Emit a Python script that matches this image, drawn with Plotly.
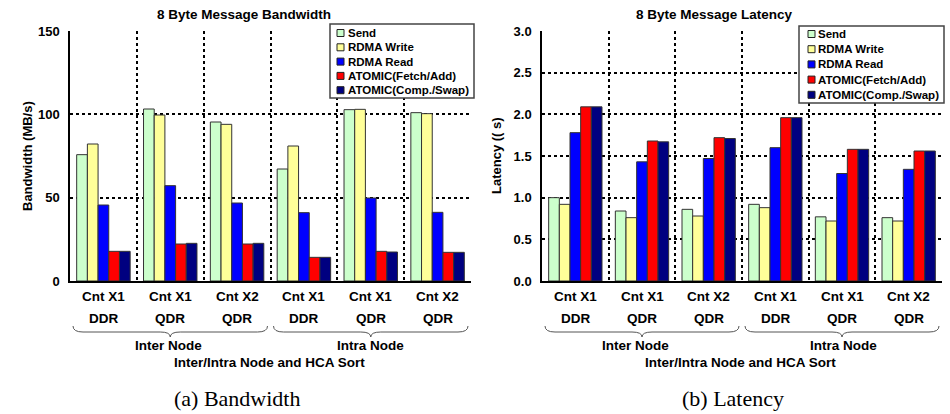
import plotly.graph_objects as go

W, H = 950, 414

# ---------------- data ----------------
hca_sort = ["Cnt X1", "Cnt X1", "Cnt X2", "Cnt X1", "Cnt X1", "Cnt X2"]
link_rate = ["DDR", "QDR", "QDR", "DDR", "QDR", "QDR"]
node_groups = ["Inter Node", "Intra Node"]
categories = [f"{'Inter' if i < 3 else 'Intra'} {h} {r}" for i, (h, r) in enumerate(zip(hca_sort, link_rate))]

series_names = ["Send", "RDMA Write", "RDMA Read", "ATOMIC(Fetch/Add)", "ATOMIC(Comp./Swap)"]
series_colors = ["#CCFFCC", "#FFFF99", "#0000FF", "#FF0000", "#000080"]

bw_send = [75.8, 103.2, 95.4, 67.2, 102.8, 101.0]
bw_write = [82.2, 99.6, 94.0, 81.0, 103.0, 100.4]
bw_read = [45.6, 57.2, 46.8, 41.0, 49.8, 41.2]
bw_fetch_add = [17.8, 22.2, 22.2, 14.2, 17.8, 17.2]
bw_comp_swap = [17.8, 22.6, 22.6, 14.2, 17.4, 17.2]

lat_send = [1.00, 0.84, 0.86, 0.92, 0.77, 0.76]
lat_write = [0.92, 0.76, 0.78, 0.88, 0.72, 0.72]
lat_read = [1.78, 1.43, 1.47, 1.60, 1.29, 1.34]
lat_fetch_add = [2.09, 1.68, 1.72, 1.96, 1.58, 1.56]
lat_comp_swap = [2.09, 1.67, 1.71, 1.96, 1.58, 1.56]

bw_series = [bw_send, bw_write, bw_read, bw_fetch_add, bw_comp_swap]
lat_series = [lat_send, lat_write, lat_read, lat_fetch_add, lat_comp_swap]

bw_ticks = [0, 50, 100, 150]
lat_ticks = [0.0, 0.5, 1.0, 1.5, 2.0, 2.5, 3.0]

# ---------------- helpers ----------------
def px(x):
    return x / W

def py(y):
    return 1 - y / H

SANS = "Liberation Sans, Arial, sans-serif"
SERIF = "Liberation Serif, Times New Roman, serif"

fig = go.Figure()

for k in range(5):
    fig.add_trace(go.Bar(x=categories, y=bw_series[k], name=series_names[k],
                         marker=dict(color=series_colors[k], line=dict(color="#333333", width=1)),
                         xaxis="x", yaxis="y", showlegend=False))
for k in range(5):
    fig.add_trace(go.Bar(x=categories, y=lat_series[k], name=series_names[k],
                         marker=dict(color=series_colors[k], line=dict(color="#333333", width=1)),
                         xaxis="x2", yaxis="y2", showlegend=False))

plot_top, plot_bot = 31, 281
panels = [
    dict(x0=70, x1=471, xa="xaxis", ya="yaxis", ticks=bw_ticks, rng=[0, 150], fmt="d"),
    dict(x0=542, x1=942, xa="xaxis2", ya="yaxis2", ticks=lat_ticks, rng=[0, 3.0], fmt=".1f"),
]

layout = dict(
    template="none",
    width=W, height=H, margin=dict(l=0, r=0, t=0, b=0, pad=0), autosize=False,
    paper_bgcolor="white", plot_bgcolor="white",
    barmode="group", bargap=0.2, bargroupgap=0.0,
    font=dict(family=SANS, color="black"),
    showlegend=False,
)

for i, p in enumerate(panels):
    anchor_y = "y" if i == 0 else "y2"
    anchor_x = "x" if i == 0 else "x2"
    layout[p["xa"]] = dict(
        domain=[px(p["x0"]), px(p["x1"])], anchor=anchor_y, type="category",
        categoryorder="array", categoryarray=categories, range=[-0.5, 5.5],
        tickson="boundaries", showgrid=True, gridcolor="black", griddash="dot", gridwidth=1.5,
        showticklabels=False, ticks="", showline=True, linecolor="black", linewidth=1.5,
        mirror=False, zeroline=False, automargin=False,
    )
    layout[p["ya"]] = dict(
        domain=[py(plot_bot), py(plot_top)], anchor=anchor_x, range=p["rng"],
        tickvals=p["ticks"], tickformat=p["fmt"], showgrid=True, gridcolor="black",
        griddash="dot", gridwidth=1.5, showline=True, linecolor="black", linewidth=1.5,
        ticks="", tickfont=dict(family=SANS, size=13, weight="bold", color="black"),
        zeroline=False, ticklabelstandoff=6, automargin=False,
    )

fig.update_layout(**layout)

annotations = []
shapes = []

titles = ["8 Byte Message Bandwidth", "8 Byte Message Latency"]
ylabels = ["Bandwidth (MB/s)", "Latency (( s)"]
captions = ["(a) Bandwidth", "(b) Latency"]
title_x = [244, 714]
ylabel_x = [27, 496]
caption_x = [237, 733]
node_label_x = [[168, 370], [635, 843]]
sort_label_x = [269, 740]

for i, p in enumerate(panels):
    xr = "x" if i == 0 else "x2"
    annotations.append(dict(text=titles[i], x=px(title_x[i]), y=py(14), xref="paper", yref="paper",
                            showarrow=False, xanchor="center", yanchor="middle",
                            font=dict(family=SANS, size=13.5, weight="bold", color="black")))
    annotations.append(dict(text=ylabels[i], x=px(ylabel_x[i]), y=py((plot_top + plot_bot) / 2),
                            xref="paper", yref="paper", textangle=-90, showarrow=False,
                            xanchor="center", yanchor="middle",
                            font=dict(family=SANS, size=13, weight="bold", color="black")))
    for c, h, r in zip(categories, hca_sort, link_rate):
        annotations.append(dict(text=h, x=c, xref=xr, y=py(296), yref="paper", showarrow=False,
                                xanchor="center", yanchor="middle",
                                font=dict(family=SANS, size=13.5, weight="bold", color="black")))
        annotations.append(dict(text=r, x=c, xref=xr, y=py(318), yref="paper", showarrow=False,
                                xanchor="center", yanchor="middle",
                                font=dict(family=SANS, size=13.5, weight="bold", color="black")))
    gw = (p["x1"] - p["x0"]) / 6
    for g, name in enumerate(node_groups):
        gx0 = p["x0"] + 3 * g * gw + 3
        gx1 = p["x0"] + 3 * (g + 1) * gw - 3
        gm = (gx0 + gx1) / 2
        yt, ym, ye, r = 326, 332, 337, 10
        path = (f"M {px(gx0)},{py(yt)} Q {px(gx0)},{py(ym)} {px(gx0 + r)},{py(ym)} "
                f"L {px(gm - r)},{py(ym)} Q {px(gm)},{py(ym)} {px(gm)},{py(ye)} "
                f"Q {px(gm)},{py(ym)} {px(gm + r)},{py(ym)} "
                f"L {px(gx1 - r)},{py(ym)} Q {px(gx1)},{py(ym)} {px(gx1)},{py(yt)}")
        shapes.append(dict(type="path", path=path, xref="paper", yref="paper",
                           line=dict(color="#555555", width=1)))
        annotations.append(dict(text=name, x=px(node_label_x[i][g]), y=py(345), xref="paper",
                                yref="paper", showarrow=False, xanchor="center", yanchor="middle",
                                font=dict(family=SANS, size=13.5, weight="bold", color="black")))
    annotations.append(dict(text="Inter/Intra Node and HCA Sort", x=px(sort_label_x[i]),
                            y=py(362), xref="paper", yref="paper", showarrow=False,
                            xanchor="center", yanchor="middle",
                            font=dict(family=SANS, size=13.5, weight="bold", color="black")))
    annotations.append(dict(text=captions[i], x=px(caption_x[i]), y=py(398), xref="paper", yref="paper",
                            showarrow=False, xanchor="center", yanchor="middle",
                            font=dict(family=SERIF, size=22, color="black")))

legend_boxes = [dict(x0=330, x1=474, y0=24, y1=98, row0=33, dy=14.3, mk=337, tx=346),
                dict(x0=799, x1=944, y0=26, y1=103, row0=34, dy=15.2, mk=808, tx=816)]
for lb in legend_boxes:
    shapes.append(dict(type="rect", xref="paper", yref="paper",
                       x0=px(lb["x0"]), x1=px(lb["x1"]), y0=py(lb["y1"]), y1=py(lb["y0"]),
                       fillcolor="white", line=dict(color="#444444", width=1.5), layer="above"))
    for k, name in enumerate(series_names):
        yc = lb["row0"] + k * lb["dy"]
        shapes.append(dict(type="rect", xref="paper", yref="paper",
                           x0=px(lb["mk"]), x1=px(lb["mk"] + 7), y0=py(yc + 3.5), y1=py(yc - 3.5),
                           fillcolor=series_colors[k], line=dict(color="#222222", width=1), layer="above"))
        annotations.append(dict(text=name, x=px(lb["tx"]), y=py(yc), xref="paper", yref="paper",
                                showarrow=False, xanchor="left", yanchor="middle",
                                font=dict(family=SANS, size=11.5, weight="bold", color="black")))

fig.update_layout(annotations=annotations, shapes=shapes)
fig.write_html("out.html", config={"displayModeBar": False},
               post_script="document.body.style.margin='0px';")
